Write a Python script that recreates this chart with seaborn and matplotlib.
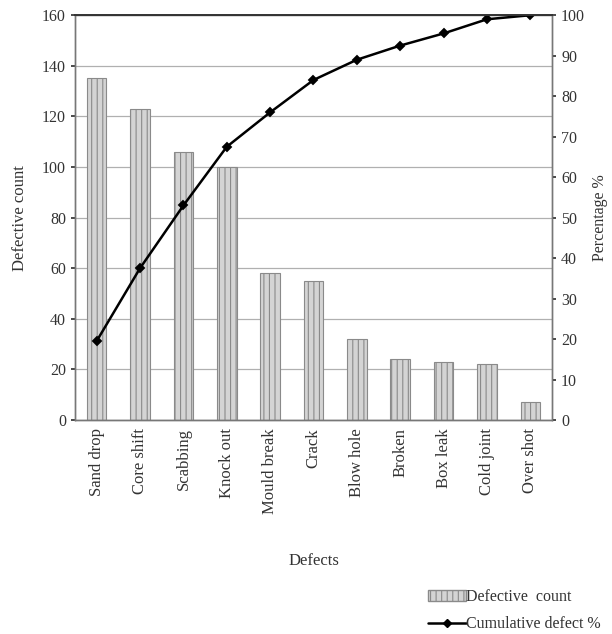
import numpy as np
import pandas as pd
import matplotlib
matplotlib.use("Agg")
import matplotlib.pyplot as plt
import seaborn as sns
from matplotlib.patches import Patch
from matplotlib.lines import Line2D

categories = ["Sand drop", "Core shift", "Scabbing", "Knock out", "Mould break", "Crack",
              "Blow hole", "Broken", "Box leak", "Cold joint", "Over shot"]
defect_counts = [135, 123, 106, 100, 58, 55, 32, 24, 23, 22, 7]
cumulative_pct = [19.5, 37.5, 53, 67.5, 76, 84, 89, 92.5, 95.5, 99, 100]
left_ticks = [0, 20, 40, 60, 80, 100, 120, 140, 160]
right_ticks = [0, 10, 20, 30, 40, 50, 60, 70, 80, 90, 100]

sns.set_theme(style="white")
plt.rcParams['font.family'] = ['Liberation Serif', 'DejaVu Serif']
plt.rcParams['hatch.color'] = '#9a9a9a'
plt.rcParams['hatch.linewidth'] = 0.8

df = pd.DataFrame({"Defects": categories, "Count": defect_counts, "Cum": cumulative_pct})

fig = plt.figure(figsize=(6.12, 6.34), dpi=100)
ax = fig.add_axes([0.1225, 0.3375, 0.7795, 0.6385])

sns.barplot(data=df, x="Defects", y="Count", ax=ax, color="#d4d4d4", width=0.45,
            edgecolor="#8a8a8a", linewidth=0.8, saturation=1, zorder=2)
for p in ax.patches:
    p.set_hatch("|||")

ax.set_ylim(0, 160)
ax.set_yticks(left_ticks)
ax.yaxis.grid(True, color="#b0b0b0", linewidth=0.9, zorder=0)
ax.set_axisbelow(True)
ax.set_xlim(-0.5, len(categories) - 0.5)
ax.set_ylabel("Defective count", fontsize=12, color="#333333", labelpad=10)
ax.set_xlabel("Defects", fontsize=12, color="#333333", labelpad=28)
ax.tick_params(axis="x", rotation=90, labelsize=12, length=0, pad=6, colors="#333333")
ax.tick_params(axis="y", labelsize=11.5, length=3, left=True, direction="out", colors="#333333")
for s in ax.spines.values():
    s.set_color("#777777")
    s.set_linewidth(1.0)

ax2 = ax.twinx()
sns.pointplot(data=df, x="Defects", y="Cum", ax=ax2, color="black", markers="D",
              markersize=4, linewidth=1.8, native_scale=False)
ax2.set_ylim(0, 100)
ax2.set_yticks(right_ticks)
ax2.set_xlim(-0.5, len(categories) - 0.5)
ax2.set_ylabel("Percentage %", fontsize=11.5, color="#333333", labelpad=5)
ax2.tick_params(axis="y", labelsize=11.5, length=3, right=True, direction="out", colors="#333333")
for s in ax2.spines.values():
    s.set_color("#777777")
    s.set_linewidth(1.0)
ax2.spines["top"].set_color("#333333")
ax2.spines["top"].set_linewidth(1.4)

handles = [Patch(facecolor="#d4d4d4", edgecolor="#8a8a8a", hatch="|||", label="Defective  count"),
           Line2D([0], [0], color="black", marker="D", markersize=4, linewidth=1.8,
                  label="Cumulative defect %")]
fig.legend(handles=handles, loc="lower right", bbox_to_anchor=(1.005, -0.02), frameon=False,
           fontsize=11.5, handlelength=2.4, handletextpad=0.0, labelspacing=0.7, labelcolor="#333333")

fig.savefig("out.png", dpi=100)
